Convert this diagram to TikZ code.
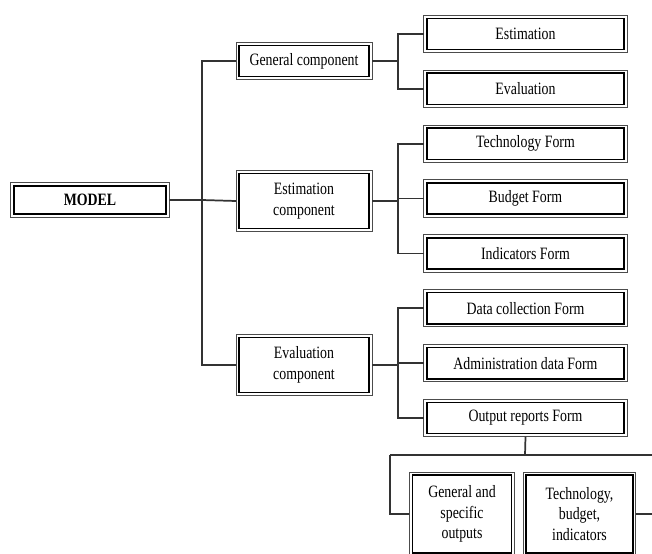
\documentclass[tikz,border=0pt]{standalone}
\usepackage{fontspec}
\setmainfont{Liberation Serif}[FakeStretch=0.8]
\usetikzlibrary{positioning}

\begin{document}
\begin{tikzpicture}[x=0.75pt,y=-0.75pt,node distance=13.14pt,
    main node/.style={rectangle,draw=black!70,line width=0.7pt,
        outer sep=0pt,inner sep=1pt,align=center,font=\fontsize{13}{15.5}\selectfont,
        append after command={\pgfextra{\draw[black,line width=1.2pt]
            ([shift={(2.3pt,2.3pt)}]\tikzlastnode.south west) rectangle
            ([shift={(-2.3pt,-2.3pt)}]\tikzlastnode.north east);}}},
    comp node/.style={main node,minimum width=102pt},
    form node/.style={main node,minimum width=152.5pt,minimum height=28pt},
    out node/.style={main node,minimum height=63pt},
    link/.style={draw=black!80,line width=1.3pt}]

    \useasboundingbox (0,0) rectangle (652,553);
    \clip (0,0) rectangle (652,553);

    % root and components
    \node[main node,minimum width=119pt,minimum height=26pt,font=\fontsize{13}{15.5}\selectfont\bfseries] (model) at (90,200) {MODEL};
    \node[comp node,minimum height=28pt] (gencomp) at (304,61) {General component};
    \node[comp node,minimum height=46pt] (estcomp) at (304,201) {Estimation\\component};
    \node[comp node,minimum height=46pt] (evalcomp) at (304,365) {Evaluation\\component};

    % forms
    \node[form node] (est) at (525.5,34) {Estimation};
    \node[form node] (eval) [below=of est] {Evaluation};
    \node[form node] (tech) [below=of eval] {Technology Form};
    \node[form node] (budget) [below=of tech] {Budget Form};
    \node[form node] (ind) [below=of budget] {Indicators Form};
    \node[form node] (data) [below=of ind] {Data collection Form};
    \node[form node] (admin) [below=of data] {Administration data Form};
    \node[form node] (out) [below=of admin] {Output reports Form};

    % outputs
    \node[out node,minimum width=79pt] (genout) at (462,514) {General and\\specific\\outputs};
    \node[out node,minimum width=84.5pt] (techout) at (579.5,514) {Technology,\\budget,\\indicators};

    \coordinate (bus1) at (202,200);
    \coordinate (bus2) at (398,61);
    \coordinate (bus3) at (398,201);
    \coordinate (bus4) at (398,365);
    \coordinate (bus5) at (525,455);
    \coordinate (busL) at (390,455);
    \coordinate (busR) at (662,455);

    \path[link] (model) -- (bus1)
        (bus1) |- (gencomp.west)
        (bus1) -- (estcomp.west)
        (bus1) |- (evalcomp.west);
    \path[link] (gencomp.east) -- (bus2)
        (bus2) |- (est.west)
        (bus2) |- (eval.west);
    \path[link] (estcomp.east) -- (bus3)
        (bus3) |- (tech.west)
        (bus3) |- (budget.west)
        (bus3) |- (ind.west);
    \path[link] (evalcomp.east) -- (bus4)
        (bus4) |- (data.west)
        (bus4) |- (admin.west)
        (bus4) |- (out.west);
    \path[link] (out.south) -- (bus5)
        (busL) -- (busR)
        (busL) |- (genout.west)
        (busR) |- (techout.east);

\end{tikzpicture}
\end{document}
